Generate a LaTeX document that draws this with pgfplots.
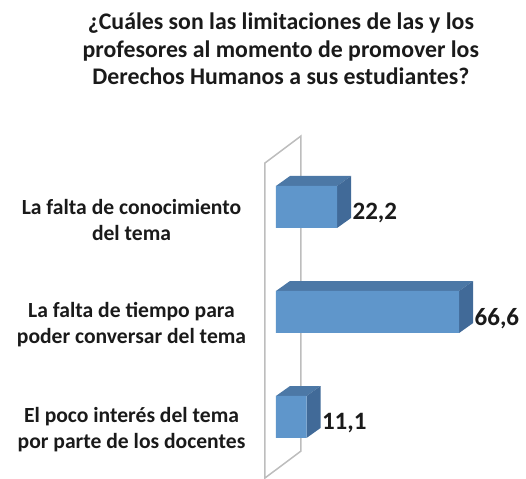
\documentclass[border=0pt]{standalone}
\usepackage{fontspec}
\setmainfont{Carlito}
\usepackage{pgfplots}
\pgfplotsset{compat=1.18}
\definecolor{barfront}{HTML}{5F96CB}
\definecolor{bartop}{HTML}{4C78A6}
\definecolor{barside}{HTML}{416A98}
\definecolor{plane}{HTML}{BDBDBD}
\definecolor{txt}{HTML}{1A1A1A}

\begin{document}
\begin{tikzpicture}
\begin{axis}[
  scale only axis, width=526pt, height=478pt,
  xmin=-100.36, xmax=90.91,
  ymin=-1.971, ymax=2.581, y dir=reverse,
  axis line style={draw=none}, tick style={draw=none},
  xtick=\empty, ytick={0,1,2},
  yticklabels={{La falta de conocimiento\\del tema},
               {La falta de tiempo para\\poder conversar del tema},
               {El poco interés del tema\\por parte de los docentes}},
  yticklabel style={font=\fontsize{21.6}{26}\selectfont\bfseries,text=txt,
    align=center,anchor=center,xshift=131.5pt,yshift=-13pt},
  clip=false,
]
% back plane
\addplot[draw=plane,line width=1.5pt] coordinates {
  (-4,-0.419) (9.09,-0.676) (9.09,2.324) (-4,2.581)} -- cycle;
% tops
\addplot[fill=bartop,draw=none] coordinates {
  (0,-0.2) (22.2,-0.2) (27.29,-0.295) (5.09,-0.295)} -- cycle;
\addplot[fill=bartop,draw=none] coordinates {
  (0,0.8) (66.6,0.8) (71.69,0.705) (5.09,0.705)} -- cycle;
\addplot[fill=bartop,draw=none] coordinates {
  (0,1.8) (11.1,1.8) (16.19,1.705) (5.09,1.705)} -- cycle;
% sides
\addplot[fill=barside,draw=none] coordinates {
  (22.2,-0.2) (27.29,-0.295) (27.29,0.105) (22.2,0.2)} -- cycle;
\addplot[fill=barside,draw=none] coordinates {
  (66.6,0.8) (71.69,0.705) (71.69,1.105) (66.6,1.2)} -- cycle;
\addplot[fill=barside,draw=none] coordinates {
  (11.1,1.8) (16.19,1.705) (16.19,2.105) (11.1,2.2)} -- cycle;
% front faces
\addplot[xbar,bar width=42pt,fill=barfront,draw=none,
  nodes near coords,point meta=x,
  every node near coord/.append style={
    font=\fontsize{25}{27}\selectfont\bfseries,text=txt,
    anchor=west,xshift=12pt,yshift=-6.5pt,
    /pgf/number format/fixed,/pgf/number format/fixed zerofill,
    /pgf/number format/precision=1,/pgf/number format/use comma,
    /pgf/number format/assume math mode=true},
] coordinates {(22.2,0) (66.6,1) (11.1,2)};
% title
\node[font=\fontsize{23.8}{27.5}\selectfont\bfseries,text=txt,align=center,anchor=north]
  at (axis description cs:0.534,0.98)
  {¿Cuáles son las limitaciones de las y los\\profesores al momento de promover los\\Derechos Humanos a sus estudiantes?};
\end{axis}
\end{tikzpicture}
\end{document}
